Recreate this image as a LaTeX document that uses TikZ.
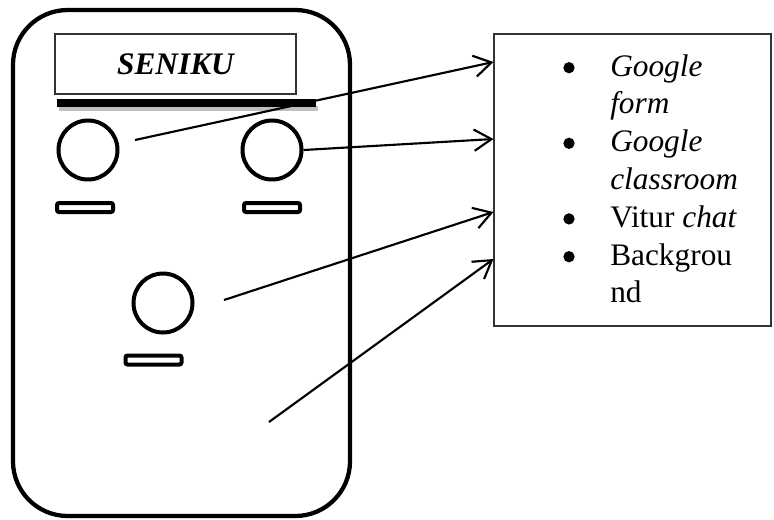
\documentclass[tikz,border=0pt]{standalone}
\usepackage{fontspec}
\setmainfont{Liberation Serif}
\usepackage{tikz}
\usetikzlibrary{arrows.meta}
\tikzset{
 knop/.style={circle, draw, line width=3pt, minimum size=44.25pt, inner sep=0pt},
 slot/.style={rectangle, draw, line width=3pt, rounded corners=1.5pt, minimum width=42pt, minimum height=6.75pt, inner sep=0pt},
 kotak/.style={draw=black!80, line width=0.8pt, inner sep=0pt},
 item/.style={font=\fontsize{23.5}{28}\selectfont, anchor=base west, inner sep=0pt},
 titik/.style={circle, fill, minimum size=8.5pt, inner sep=0pt},
 panah/.style={line width=1.6pt, -{Straight Barb[length=13pt,width=16pt,line width=1.6pt]}}
}

\begin{document}
\begin{tikzpicture}[x=0.75pt,y=-0.75pt]
\useasboundingbox (0,0) rectangle (774,519);
% badan ponsel
\node[draw, line width=3.2pt, rounded corners=41pt, minimum width=252.75pt, minimum height=379.5pt, inner sep=0pt] (ponsel) at (181.5,263) {};
\node[kotak, minimum width=180.75pt, minimum height=45pt, font=\fontsize{23.5}{28}\selectfont\bfseries\itshape] (judul) at (175.5,64) {SENIKU};
\fill[black!25] (59,106) rectangle (318,111);
\fill (57,99) rectangle (316,107);
% tombol
\node[knop] (k1) at (88,150) {};
\node[knop] (k2) at (272,150) {};
\node[knop] (k3) at (163,303) {};
\node[slot] (s1) at (85,207.5) {};
\node[slot] (s2) at (272,207.5) {};
\node[slot] (s3) at (153.5,360) {};
% daftar fitur
\node[kotak, minimum width=207.75pt, minimum height=219pt] (fitur) at (632.5,180) {};
\foreach \teks [count=\i] in {\textit{Google}, \textit{form}, \textit{Google}, \textit{classroom}, Vitur \textit{chat}, Backgrou, nd} {
 \node[item] (baris\i) at (610,{76+37.8*(\i-1)}) {\teks};
}
\foreach \i in {1,3,5,6} {
 \node[titik] (titik\i) at (569,{67.7+37.8*(\i-1)}) {};
}
% panah
\coordinate (a1) at (135,140);
\coordinate (a3) at (224,300);
\coordinate (a4) at (269,422);
\draw[panah] (a1) -- (fitur.west |- 0,62);
\draw[panah] (k2.east) -- (fitur.west |- 0,139);
\draw[panah] (a3) -- (fitur.west |- 0,212);
\draw[panah] (a4) -- (fitur.west |- 0,259);
\end{tikzpicture}
\end{document}
